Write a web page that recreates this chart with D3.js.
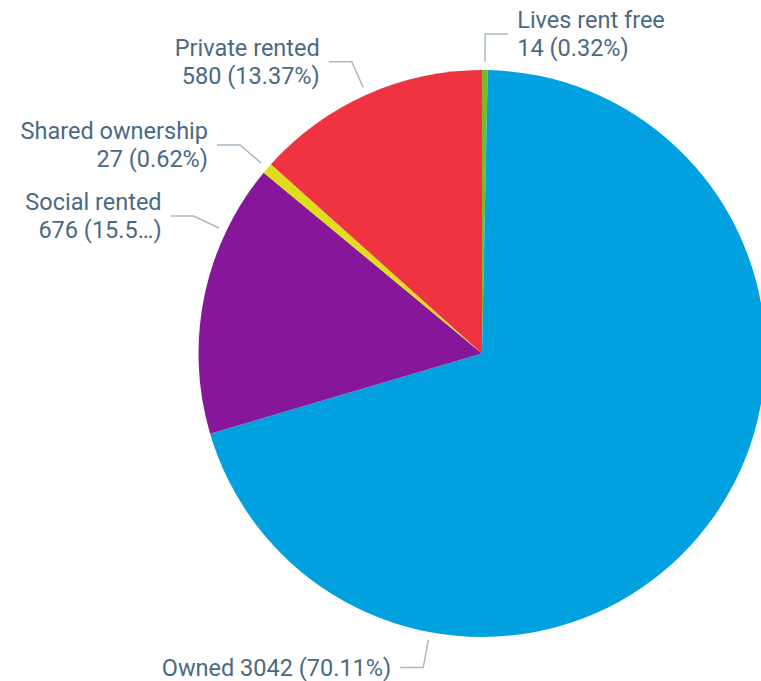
<!DOCTYPE html>
<html>
<head>
<meta charset="utf-8">
<script src="https://cdn.jsdelivr.net/npm/d3@7"></script>
<style>
  html, body { margin: 0; padding: 0; background: #fff; overflow: hidden; }
  svg { display: block; }
  text { font-family: Roboto, "Noto Sans", sans-serif; }
</style>
</head>
<body>
<svg id="chart" width="761" height="681"></svg>
<script>
// ---- data ----
const categories = ["Lives rent free", "Owned", "Social rented", "Shared ownership", "Private rented"];
const values     = [14, 3042, 676, 27, 580];
const colors     = ["#78bb25", "#00a1de", "#86169a", "#e0dd1c", "#ef3340"];
// label text as shown (Power BI truncates one of them)
const pctLabels  = ["0.32%", "70.11%", "15.5…", "0.62%", "13.37%"];

// ---- layout (styling, not data) ----
const W = 761, H = 681;
const cx = 482, cy = 353.5, R = 283.5;
const textColor = "#4a6a82", leaderColor = "#a9b9c5";
const fontSize = 23.5, lineGap = 28;
// where the leader line leaves the slice (degrees clockwise from 12 o'clock), if not at mid-angle
const labelAngleOverride = { "Owned": 190.6, "Social rented": 295.5 };
// single-line labels
const singleLine = { "Owned": true };

const svg = d3.select("#chart");
const g = svg.append("g").attr("transform", `translate(${cx},${cy})`);

const data = categories.map((c, i) => ({ name: c, value: values[i], color: colors[i], pct: pctLabels[i] }));
const pie = d3.pie().sort(null).value(d => d.value).startAngle(0).endAngle(2 * Math.PI);
const arcs = pie(data);
const arc = d3.arc().innerRadius(0).outerRadius(R);

g.selectAll("path.slice")
  .data(arcs)
  .join("path")
  .attr("class", "slice")
  .attr("d", arc)
  .attr("fill", d => d.data.color);

const pt = (a, r) => [Math.sin(a) * r, -Math.cos(a) * r];

arcs.forEach(d => {
  const name = d.data.name;
  const a = labelAngleOverride[name] !== undefined
    ? labelAngleOverride[name] * Math.PI / 180
    : (d.startAngle + d.endAngle) / 2;
  const p0 = pt(a, R + 8);
  const p1 = pt(a, R + 36);
  const right = Math.sin(a) >= 0 || Math.abs(Math.sin(a)) < 0.02;
  const dir = right ? 1 : -1;
  const p2 = [p1[0] + dir * 23, p1[1]];

  g.append("polyline")
    .attr("points", [p0, p1, p2].map(p => p.join(",")).join(" "))
    .attr("fill", "none")
    .attr("stroke", leaderColor)
    .attr("stroke-width", 1.5);

  const tx = p2[0] + dir * 9;
  const anchor = right ? "start" : "end";
  const t = g.append("text")
    .attr("x", tx)
    .attr("fill", textColor)
    .attr("font-size", fontSize)
    .attr("text-anchor", anchor);
  if (singleLine[name]) {
    t.append("tspan").attr("x", tx).attr("y", p1[1]).attr("dy", "0.35em")
      .text(`${name} ${d.data.value} (${d.data.pct})`);
  } else {
    t.append("tspan").attr("x", tx).attr("y", p1[1] - lineGap / 2).attr("dy", "0.35em").text(name);
    t.append("tspan").attr("x", tx).attr("y", p1[1] + lineGap / 2).attr("dy", "0.35em")
      .text(`${d.data.value} (${d.data.pct})`);
  }
});
</script>
</body>
</html>
